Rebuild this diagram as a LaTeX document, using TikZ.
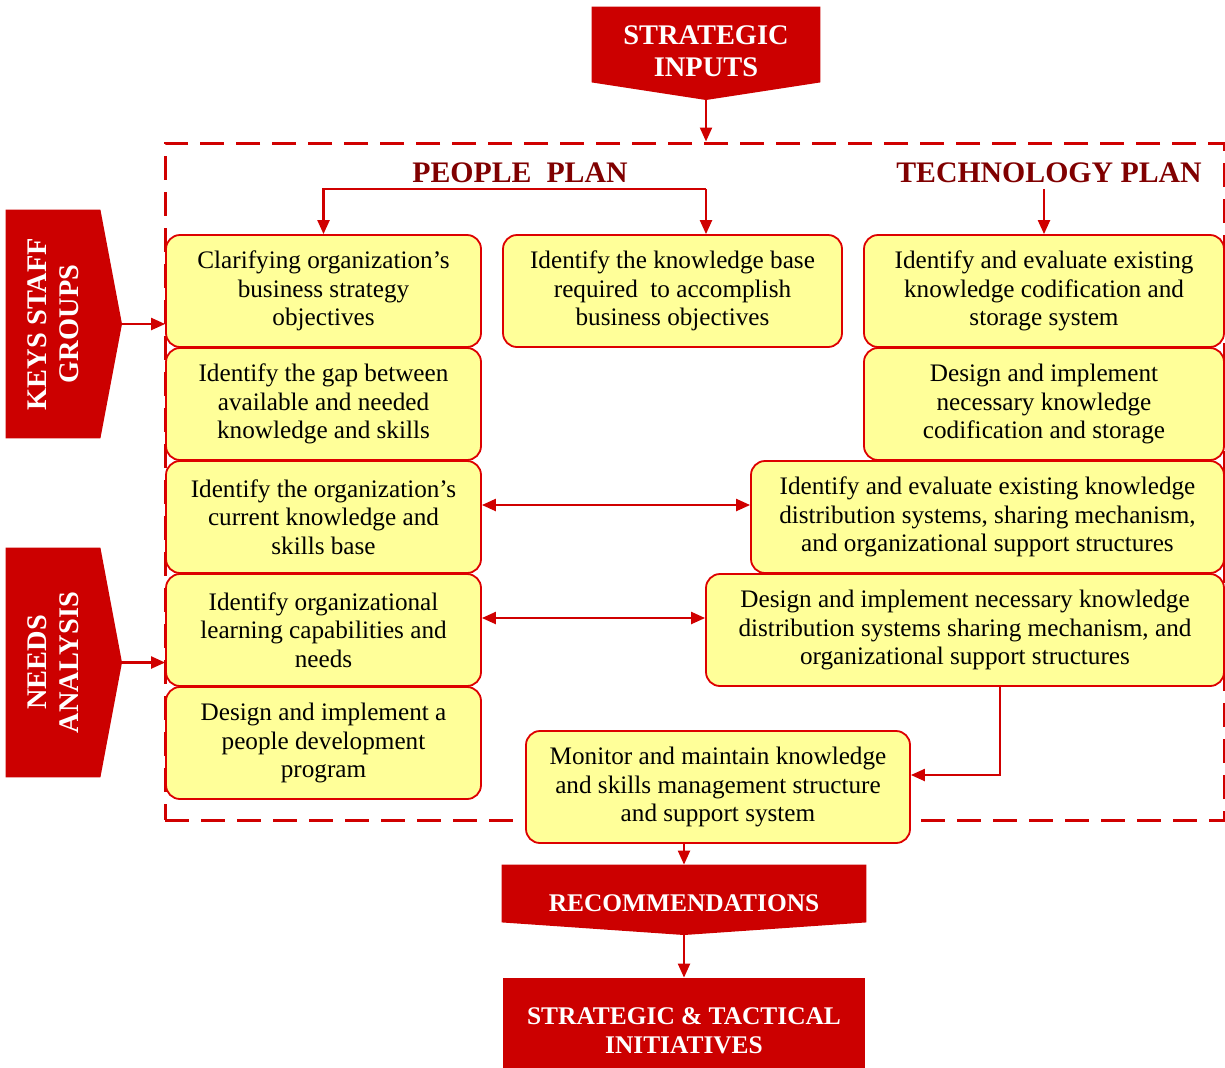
\documentclass[tikz,border=0pt]{standalone}
\usepackage{fontspec}
\setmainfont{Liberation Serif}
\usetikzlibrary{arrows.meta,positioning,backgrounds}

\definecolor{bannerred}{HTML}{CC0000}
\definecolor{boxred}{HTML}{DD0000}
\definecolor{linered}{HTML}{D00000}
\definecolor{boxyellow}{HTML}{FFFF99}
\definecolor{planred}{HTML}{800000}

\newcommand{\boxfont}{\fontsize{12.6}{14.3}\selectfont}
\newcommand{\bannerfont}{\fontsize{12.7}{14.5}\selectfont\bfseries}
\newcommand{\bigbannerfont}{\fontsize{14.2}{15.8}\selectfont\bfseries}
\newcommand{\planfont}{\fontsize{14.9}{17}\selectfont\bfseries}

\tikzstyle{stepbox} = [rectangle, rounded corners=7pt, minimum height=56pt, align=center, draw=boxred, line width=0.9pt, fill=boxyellow, font=\boxfont, inner sep=1pt]
\tikzstyle{bannerbox} = [rectangle, inner sep=0pt]
\tikzstyle{banner} = [text=white, align=center, font=\bannerfont, inner sep=0pt]
\tikzstyle{bigbanner} = [banner, font=\bigbannerfont]
\tikzstyle{plantitle} = [text=planred, font=\planfont, inner sep=0pt]
\tikzstyle{frameline} = [draw=linered, line width=1.5pt, dash pattern=on 12pt off 6pt, inner sep=0pt]
\tikzstyle{arr} = [draw=linered, line width=1.1pt, -{Triangle[length=7pt,width=6pt]}]
\tikzstyle{darr} = [draw=linered, line width=1.1pt, {Triangle[length=7pt,width=6pt]}-{Triangle[length=7pt,width=6pt]}]

\begin{document}
\begin{tikzpicture}[x=0.5pt, y=-0.5pt, node distance=56.5pt]

	\useasboundingbox (0,0) rectangle (1225,1067);

	% dashed frame
	\node (frame) [frameline, minimum width=529.5pt, minimum height=338.5pt] at (694.5,481.5) {};

	% banners
	\node (inputs) [bannerbox, minimum width=114pt, minimum height=37.5pt] at (706,44.5) {};
	\coordinate (inputsTip) at (706,100);
	\node (inputsText) [bigbanner] at ([yshift=-3.5pt]inputs.center) {STRATEGIC\\INPUTS};

	\node (keyStaff) [bannerbox, minimum width=47pt, minimum height=114pt] at (53,324) {};
	\coordinate (keyStaffTip) at (122,324);
	\node (keyStaffText) [bigbanner, rotate=90] at (keyStaff) {KEYS STAFF\\GROUPS};

	\node (needs) [bannerbox, minimum width=47pt, minimum height=114.5pt] at (53,662.5) {};
	\coordinate (needsTip) at (122,662.5);
	\node (needsText) [bigbanner, rotate=90] at (needs) {NEEDS\\ANALYSIS};

	\node (recom) [bannerbox, minimum width=182pt, minimum height=28.5pt] at (684,893.5) {};
	\coordinate (recomTip) at (684,935);
	\node (recomText) [banner] at ([yshift=-5pt]recom.center) {RECOMMENDATIONS};

	\node (initiatives) [bannerbox, minimum width=181pt, minimum height=46pt] at (684,1024) {};
	\node (initiativesText) [banner] at ([yshift=-3.5pt]initiatives.center) {STRATEGIC \& TACTICAL\\INITIATIVES};

	\begin{scope}[on background layer]
		\fill [bannerred] (inputs.north west) -- (inputs.north east) -- (inputs.south east) -- (inputsTip) -- (inputs.south west) -- cycle;
		\fill [bannerred] (keyStaff.north west) -- (keyStaff.north east) -- (keyStaffTip) -- (keyStaff.south east) -- (keyStaff.south west) -- cycle;
		\fill [bannerred] (needs.north west) -- (needs.north east) -- (needsTip) -- (needs.south east) -- (needs.south west) -- cycle;
		\fill [bannerred] (recom.north west) -- (recom.north east) -- (recom.south east) -- (recomTip) -- (recom.south west) -- cycle;
		\fill [bannerred] (initiatives.north west) rectangle (initiatives.south east);
	\end{scope}

	% plan titles
	\node (peoplePlan) [plantitle] at (520,173) {PEOPLE\ \ PLAN};
	\node (techPlan) [plantitle] at (1049,173) {TECHNOLOGY PLAN};
	\coordinate (ppLevel) at (0,189);
	\coordinate (ppRight) at (706,189);

	% people plan
	\node (clarify) [stepbox, minimum width=157.5pt] at (323.5,291) {Clarifying organization’s\\business strategy\\objectives};
	\node (gap) [stepbox, minimum width=157.5pt, below of=clarify] {Identify the gap between\\available and needed\\knowledge and skills};
	\node (currentBase) [stepbox, minimum width=157.5pt, below of=gap] {Identify the organization’s\\current knowledge and\\skills base};
	\node (learning) [stepbox, minimum width=157.5pt, below of=currentBase] {Identify organizational\\learning capabilities and\\needs};
	\node (develop) [stepbox, minimum width=157.5pt, below of=learning] {Design and implement a\\people development\\program};
	\node (knowBase) [stepbox, minimum width=169.5pt] at (672.5,291) {Identify the knowledge base\\required\ \ to accomplish\\business objectives};

	% technology plan
	\node (codify) [stepbox, minimum width=180pt] at (1044,291) {Identify and evaluate existing\\knowledge codification and\\storage system};
	\node (codifyDesign) [stepbox, minimum width=180pt, below of=codify] {Design and implement\\necessary knowledge\\codification and storage};
	\node (distEval) [stepbox, minimum width=236.5pt] at (987.5,517) {Identify and evaluate existing knowledge\\distribution systems, sharing mechanism,\\and organizational support structures};
	\node (distDesign) [stepbox, minimum width=259pt] at (965,630) {Design and implement necessary knowledge\\distribution systems sharing mechanism, and\\organizational support structures};

	\node (monitor) [stepbox, minimum width=192pt] at (718,787) {Monitor and maintain knowledge\\and skills management structure\\and support system};

	% connectors
	\draw [arr] (inputsTip) -- (inputsTip |- frame.north);
	\draw [arr] (ppRight) -- (clarify.north |- ppLevel) -- (clarify.north);
	\draw [arr] (ppRight) -- (ppRight |- knowBase.north);
	\draw [arr] (codify.north |- ppLevel) -- (codify.north);
	\draw [arr] (keyStaffTip) -- (keyStaffTip -| clarify.west);
	\draw [arr] (needsTip) -- (needsTip -| learning.west);
	\draw [darr] ([yshift=6pt]currentBase.east) -- ([yshift=6pt]distEval.west);
	\draw [darr] ([yshift=6pt]learning.east) -- ([yshift=6pt]distDesign.west);
	\draw [arr] ([xshift=17.5pt]distDesign.south) |- ([yshift=6pt]monitor.east);
	\draw [arr] (monitor.south -| recom.north) -- (recom.north);
	\draw [arr] (recomTip) -- (initiatives.north);

\end{tikzpicture}
\end{document}
